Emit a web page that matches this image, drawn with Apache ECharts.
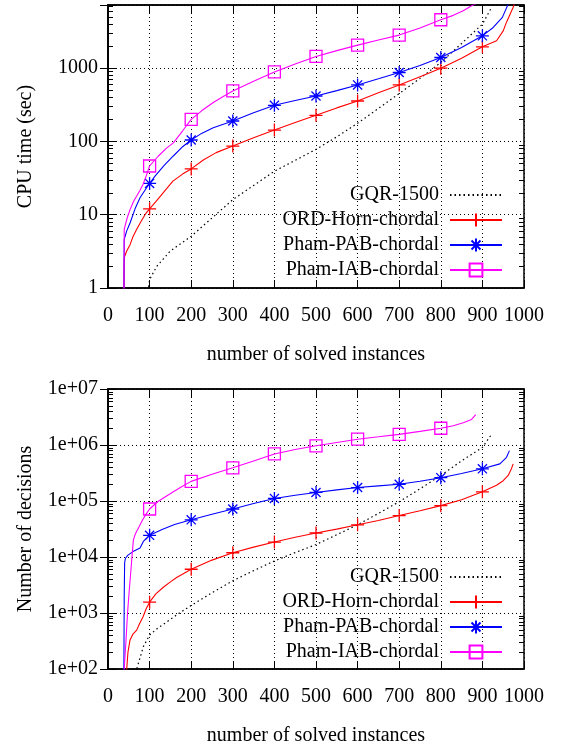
<!DOCTYPE html>
<html>
<head>
<meta charset="utf-8">
<script src="https://cdn.jsdelivr.net/npm/echarts@6/dist/echarts.min.js"></script>
<style>html,body{margin:0;padding:0;background:#fff}#c{width:563px;height:747px}</style>
</head>
<body>
<div id="c"></div>
<script>
// ---------- data ----------
const seriesNames = ['GQR-1500', 'ORD-Horn-chordal', 'Pham-PAB-chordal', 'Pham-IAB-chordal'];
const xTickLabels = ['0','100','200','300','400','500','600','700','800','900','1000'];
const yTickLabelsTime = ['1','10','100','1000'];          // 10^0 .. 10^3
const yTickLabelsDec = ['1e+02','1e+03','1e+04','1e+05','1e+06','1e+07']; // 10^2 .. 10^7

// CPU time (top panel)
const gqrTimeX = [96, 100, 117, 150, 200, 250, 300, 350, 400, 450, 500, 550, 600, 650, 700, 750, 800, 850, 900, 922];
const gqrTimeY = [0.9, 1.3, 1.97, 3.2, 5.07, 9, 16, 25, 39, 55, 77.6, 115, 176, 280, 447, 720, 1186, 2150, 3950, 6680];

const ordTimeX = [1, 38, 39, 45, 53, 60, 69, 80, 92, 100, 115, 133, 156, 180, 200, 230, 260, 300, 350, 400, 450, 500, 550, 600, 650, 700, 750, 800, 850, 900, 934, 950, 958, 966, 974, 980];
const ordTimeY = [0.3, 0.5, 2.6, 3.2, 3.9, 5.0, 6.3, 8.2, 10.6, 12, 15, 19.9, 28.6, 36, 42, 56, 70, 86, 112, 142, 180, 226, 285, 354, 460, 586, 760, 990, 1350, 1940, 2340, 3200, 4200, 5300, 6700, 8500];

const pabTimeX = [1, 38, 39, 45, 53, 65, 77, 90, 100, 113, 135, 157, 180, 200, 225, 253, 300, 350, 400, 450, 500, 550, 600, 650, 700, 750, 800, 850, 900, 926, 948, 962, 968];
const pabTimeY = [0.3, 0.5, 4.6, 6.0, 7.7, 12, 17, 22, 26.6, 33.5, 47, 63, 85, 104, 128, 153, 189, 245, 309, 360, 414, 490, 586, 710, 865, 1080, 1387, 1900, 2735, 3560, 4880, 7400, 9000];

const iabTimeX = [1, 38, 39, 46, 53, 61, 69, 76, 84, 92, 100, 120, 140, 157, 180, 200, 225, 253, 275, 300, 350, 400, 450, 500, 550, 600, 650, 700, 750, 800, 830, 854, 870, 882, 890];
const iabTimeY = [0.3, 0.5, 6.3, 9, 11.7, 15, 17.9, 21, 25.8, 34, 46, 62, 80, 95, 140, 199, 260, 337, 400, 485, 660, 882, 1130, 1432, 1720, 2043, 2400, 2800, 3500, 4530, 5200, 6000, 6800, 7400, 8000];

// Number of decisions (bottom panel)
const gqrDecX = [60, 69, 85, 100, 120, 141, 170, 200, 250, 300, 350, 400, 450, 500, 550, 600, 650, 700, 750, 800, 850, 900, 922];
const gqrDecY = [60, 100, 251, 404, 540, 690, 980, 1365, 2300, 3770, 5700, 8500, 12000, 16700, 25000, 37600, 60000, 97000, 165000, 286000, 520000, 906000, 1550000];

const ordDecX = [1, 44, 45, 48, 53, 60, 69, 76, 84, 92, 100, 115, 133, 150, 165, 200, 250, 300, 350, 400, 450, 500, 550, 600, 650, 700, 750, 800, 850, 900, 934, 950, 962, 970, 974];
const ordDecY = [30, 60, 100, 200, 330, 420, 495, 650, 850, 1200, 1560, 2200, 2880, 3600, 4310, 6040, 8800, 11900, 15000, 18500, 22500, 26800, 31500, 37600, 45000, 55000, 67000, 82600, 105000, 146000, 191000, 230000, 286000, 380000, 460000];

const pabDecX = [1, 38, 39, 40, 42, 48, 60, 77, 85, 100, 130, 160, 200, 250, 300, 350, 400, 450, 500, 550, 600, 650, 700, 750, 800, 850, 900, 942, 958, 965];
const pabDecY = [30, 60, 2000, 7900, 9500, 10800, 12500, 14500, 19000, 24400, 31000, 38000, 46100, 58000, 72000, 90000, 111000, 127000, 142000, 158000, 174000, 186000, 199000, 225000, 261000, 310000, 376000, 460000, 602000, 794000];

const iabDecX = [1, 38, 39, 43, 47, 51, 55, 58, 61, 65, 69, 75, 81, 90, 100, 120, 140, 157, 180, 200, 250, 300, 350, 400, 450, 500, 550, 600, 650, 700, 750, 800, 830, 854, 874, 884];
const iabDecY = [30, 60, 100, 300, 1000, 2500, 5700, 11000, 20000, 25000, 28700, 35000, 43000, 56000, 72000, 98000, 122000, 146000, 185000, 224000, 300000, 392000, 520000, 692000, 830000, 968000, 1110000, 1270000, 1400000, 1550000, 1750000, 1990000, 2200000, 2500000, 2860000, 3500000];

// ---------- helpers ----------
const FONT = 'Liberation Serif';
const colors = ['#000000', '#ff0000', '#0000ff', '#ff00ff'];
const symbols = [
  'circle',
  'path://M0,6L12,6M6,0L6,12',
  'path://M0,6L12,6M6,0L6,12M1.8,1.8L10.2,10.2M10.2,1.8L1.8,10.2',
  'path://M0,0L12,0L12,12L0,12Z'
];
const symSizes = [2, 13, 13, 12];

function buildData(k, xs, ys) {
  return xs.map((x, i) => {
    const p = [x, ys[i]];
    return (k !== 0 && x % 100 === 0) ? p : { value: p, symbol: 'none' };
  });
}

function lineSeries(k, xs, ys, xi, yi) {
  return {
    type: 'line', name: seriesNames[k], xAxisIndex: xi, yAxisIndex: yi,
    data: buildData(k, xs, ys),
    symbol: symbols[k],
    symbolSize: symSizes[k],
    showAllSymbol: true,
    clip: true,
    lineStyle: { color: colors[k], width: k === 0 ? 1.2 : 1.1, type: k === 0 ? [1.5, 3] : 'solid' },
    itemStyle: k === 0
      ? { color: 'rgba(0,0,0,0)', borderColor: 'rgba(0,0,0,0)', borderWidth: 0 }
      : { color: 'rgba(0,0,0,0)', borderColor: colors[k], borderWidth: 1.3 },
    emphasis: { disabled: true },
    z: 3 + k
  };
}

function minorVals(lo, hi, maxV) {
  const out = [];
  for (let e = lo; e < hi; e++) for (let m = 2; m <= 9; m++) {
    const v = m * Math.pow(10, e);
    if (v < maxV) out.push(v);
  }
  return out;
}

const lbl = { color: '#000', fontFamily: FONT, fontSize: 20 };
const split = { show: true, lineStyle: { color: '#000', width: 1, type: [1, 3] } };
const axLine = { show: true, lineStyle: { color: '#000', width: 1.5 } };
const majTick = { show: true, inside: true, length: 8, lineStyle: { color: '#000', width: 1 } };

function xBottom(gi, name) {
  return {
    type: 'value', gridIndex: gi, min: 0, max: 1000, interval: 100, position: 'bottom',
    name: name, nameLocation: 'middle', nameGap: 57, nameTextStyle: lbl,
    axisLine: axLine, axisTick: majTick,
    axisLabel: Object.assign({ margin: 18, formatter: v => xTickLabels[Math.round(v / 100)] }, lbl),
    splitLine: split
  };
}
function xTop(gi) {
  return {
    type: 'value', gridIndex: gi, min: 0, max: 1000, interval: 100, position: 'top',
    axisLine: axLine, axisTick: majTick,
    axisLabel: { show: false }, splitLine: { show: false }
  };
}
function yLeft(gi, min, max, name, labels, e0) {
  return {
    type: 'log', gridIndex: gi, min: min, max: max, position: 'left',
    name: name, nameLocation: 'middle', nameGap: 72, nameRotate: 90, nameTextStyle: lbl,
    axisLine: axLine, axisTick: majTick,
    axisLabel: Object.assign({ margin: 10, formatter: v => {
      const e = Math.log10(v); const r = Math.round(e);
      if (Math.abs(e - r) > 1e-6) return '';
      return labels[r - e0] || '';
    } }, lbl),
    splitLine: split
  };
}
function yRight(gi, min, max) {
  return {
    type: 'log', gridIndex: gi, min: min, max: max, position: 'right',
    axisLine: axLine, axisTick: majTick,
    axisLabel: { show: false }, splitLine: { show: false }
  };
}
function legend(top) {
  return {
    orient: 'vertical', align: 'right', right: 60, top: top, padding: 0,
    itemWidth: 52, itemHeight: 16, itemGap: 5, selectedMode: false,
    data: seriesNames,
    textStyle: { color: '#000', fontFamily: FONT, fontSize: 20, lineHeight: 20, padding: [0, 6, 0, 0] }
  };
}

const option = {
  animation: false,
  backgroundColor: '#fff',
  grid: [
    { left: 108, top: 5, width: 416, height: 283, show: true, borderColor: '#000', borderWidth: 1.5 },
    { left: 108, top: 389, width: 416, height: 284, show: true, borderColor: '#000', borderWidth: 1.5 }
  ],
  xAxis: [xBottom(0, 'number of solved instances'), xTop(0), xBottom(1, 'number of solved instances'), xTop(1)],
  yAxis: [
    yLeft(0, 1, 7200, 'CPU time (sec)', yTickLabelsTime, 0), yRight(0, 1, 7200),
    yLeft(1, 100, 1e7, 'Number of decisions', yTickLabelsDec, 2), yRight(1, 100, 1e7)
  ],
  legend: [legend(185), legend(567)],
  series: [
    lineSeries(0, gqrTimeX, gqrTimeY, 0, 0),
    lineSeries(1, ordTimeX, ordTimeY, 0, 0),
    lineSeries(2, pabTimeX, pabTimeY, 0, 0),
    lineSeries(3, iabTimeX, iabTimeY, 0, 0),
    lineSeries(0, gqrDecX, gqrDecY, 2, 2),
    lineSeries(1, ordDecX, ordDecY, 2, 2),
    lineSeries(2, pabDecX, pabDecY, 2, 2),
    lineSeries(3, iabDecX, iabDecY, 2, 2)
  ]
};

const chart = echarts.init(document.getElementById('c'), null, { renderer: 'canvas' });
chart.setOption(option);

// minor log ticks (2..9 per decade) on the left and right frame edges, placed via the axis scales
const graphics = [];
function addMinorTicks(xi, yi, vals) {
  vals.forEach(v => {
    const pL = chart.convertToPixel({ xAxisIndex: xi, yAxisIndex: yi }, [0, v]);
    const pR = chart.convertToPixel({ xAxisIndex: xi, yAxisIndex: yi }, [1000, v]);
    if (!pL || !pR) return;
    const y = Math.round(pL[1]) + 0.5;
    graphics.push({ type: 'line', z: 50, silent: true,
      shape: { x1: pL[0], y1: y, x2: pL[0] + 5, y2: y }, style: { stroke: '#000', lineWidth: 1 } });
    graphics.push({ type: 'line', z: 50, silent: true,
      shape: { x1: pR[0] - 5, y1: y, x2: pR[0], y2: y }, style: { stroke: '#000', lineWidth: 1 } });
  });
}
addMinorTicks(0, 0, minorVals(0, 4, 7200));
addMinorTicks(2, 2, minorVals(2, 7, 1e7));
chart.setOption({ graphic: graphics });
</script>
</body>
</html>
